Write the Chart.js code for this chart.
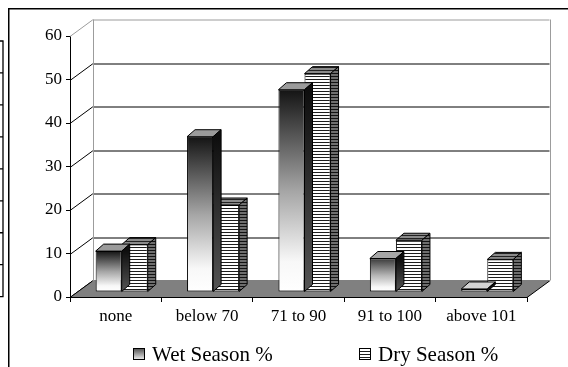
<!DOCTYPE html>
<html>
<head>
<meta charset="utf-8">
<script src="https://cdn.jsdelivr.net/npm/chart.js@4/dist/chart.umd.min.js"></script>
<style>
  html, body { margin: 0; padding: 0; background: #fff; }
  canvas { display: block; }
</style>
</head>
<body>
<canvas id="c" width="568" height="367"></canvas>
<script>
// Share of sites per class, wet vs dry season
const categories = ['none', 'below 70', '71 to 90', '91 to 100', 'above 101'];
const wetSeason = [9.4, 35.7, 46.5, 7.7, 0.7];
const drySeason = [10.9, 20, 50.2, 11.9, 7.5];
const seriesNames = ['Wet Season %', 'Dry Season %'];
const yTicks = [0, 10, 20, 30, 40, 50, 60];

const FONT = "'Liberation Serif', 'Times New Roman', serif";
const WALL = { dx: 22.5, dy: -16.5 };  // depth of floor and walls
const SHIFT = { dx: 6, dy: -5 };       // bar row stands part way back on the floor
const BAR = { dx: 8, dy: -7 };         // depth of each bar

const canvas = document.getElementById('c');
const ctx2d = canvas.getContext('2d');

function stripes(dark, light) {
  const c = document.createElement('canvas');
  c.width = 2; c.height = 3;
  const g = c.getContext('2d');
  g.fillStyle = light; g.fillRect(0, 0, 2, 3);
  g.fillStyle = dark; g.fillRect(0, 0, 2, 1);
  return ctx2d.createPattern(c, 'repeat');
}
const dryFrontFill = stripes('#1e1e1e', '#ffffff');
const drySideFill = stripes('#111111', '#6e6e6e');
const dryTopFill = stripes('#222222', '#8a8a8a');

function grey(v) {
  const h = Math.round(Math.max(0, Math.min(255, v))).toString(16).padStart(2, '0');
  return '#' + h + h + h;
}

// shaded front: dark at the top fading to white at the base;
// very short bars never reach full darkness
function wetGradient(ctx, top, base) {
  const f = Math.min(1, Math.abs(base - top) / 40);
  const g = ctx.createLinearGradient(0, top, 0, base);
  g.addColorStop(0, grey(255 - 235 * f));
  g.addColorStop(0.5, grey(255 - 90 * f));
  g.addColorStop(0.85, '#f8f8f8');
  g.addColorStop(1, '#ffffff');
  return g;
}

function wetFront(c) {
  const ys = c.chart.scales.y;
  if (c.type !== 'data' || !ys || !c.parsed) return '#888888';
  const top = ys.getPixelForValue(c.parsed.y);
  const base = ys.getPixelForValue(0);
  if (!Number.isFinite(top) || !Number.isFinite(base) || top === base) return '#888888';
  return wetGradient(c.chart.ctx, top, base);
}

const depthPlugin = {
  id: 'depth',
  beforeDatasetsDraw(chart) {
    const { ctx, chartArea: a, scales: { y } } = chart;
    const yTop = y.getPixelForValue(yTicks[yTicks.length - 1]);
    const yBot = y.getPixelForValue(yTicks[0]);
    ctx.save();
    ctx.lineWidth = 1;
    // side-wall and back-wall gridlines
    yTicks.forEach((v, i) => {
      const py = Math.round(y.getPixelForValue(v)) + 0.5;
      ctx.strokeStyle = i === yTicks.length - 1 ? '#9c9c9c' : '#000';
      ctx.beginPath();
      ctx.moveTo(a.left, py);
      ctx.lineTo(a.left + WALL.dx, py + WALL.dy);
      ctx.lineTo(a.right + WALL.dx, py + WALL.dy);
      ctx.stroke();
    });
    // back wall edges
    ctx.strokeStyle = '#9c9c9c';
    ctx.beginPath();
    ctx.moveTo(Math.round(a.left + WALL.dx) + 0.5, yTop + WALL.dy);
    ctx.lineTo(Math.round(a.left + WALL.dx) + 0.5, yBot + WALL.dy);
    ctx.moveTo(Math.round(a.right + WALL.dx) + 0.5, yTop + WALL.dy);
    ctx.lineTo(Math.round(a.right + WALL.dx) + 0.5, yBot + WALL.dy);
    ctx.stroke();
    // floor
    const fy = Math.round(yBot) + 0.5;
    ctx.fillStyle = '#808080';
    ctx.beginPath();
    ctx.moveTo(a.left, fy);
    ctx.lineTo(a.right, fy);
    ctx.lineTo(a.right + WALL.dx, fy + WALL.dy);
    ctx.lineTo(a.left + WALL.dx, fy + WALL.dy);
    ctx.closePath();
    ctx.fill();
    ctx.strokeStyle = '#000';
    ctx.beginPath();
    ctx.moveTo(a.left + WALL.dx, fy + WALL.dy);
    ctx.lineTo(a.left, fy);
    ctx.lineTo(a.right, fy);
    ctx.lineTo(a.right + WALL.dx, fy + WALL.dy);
    ctx.stroke();
    ctx.restore();
  },
  beforeDatasetDraw(chart) {
    chart.ctx.save();
    chart.ctx.translate(SHIFT.dx, SHIFT.dy);
  },
  afterDatasetDraw(chart, args) {
    const ctx = chart.ctx;
    const isWet = args.index === 0;
    const meta = chart.getDatasetMeta(args.index);
    ctx.lineWidth = 1;
    ctx.strokeStyle = '#000';
    meta.data.forEach(bar => {
      const { x, y, base, width } = bar.getProps(['x', 'y', 'base', 'width'], true);
      const l = x - width / 2, r = x + width / 2;
      const f = Math.min(1, Math.abs(base - y) / 40);
      // top face
      ctx.beginPath();
      ctx.moveTo(l, y);
      ctx.lineTo(l + BAR.dx, y + BAR.dy);
      ctx.lineTo(r + BAR.dx, y + BAR.dy);
      ctx.lineTo(r, y);
      ctx.closePath();
      ctx.fillStyle = isWet ? grey(215 - 60 * f) : dryTopFill;
      ctx.fill();
      ctx.stroke();
      // side face
      ctx.beginPath();
      ctx.moveTo(r, y);
      ctx.lineTo(r + BAR.dx, y + BAR.dy);
      ctx.lineTo(r + BAR.dx, base + BAR.dy);
      ctx.lineTo(r, base);
      ctx.closePath();
      if (isWet && base > y) {
        const g = ctx.createLinearGradient(0, y, 0, base);
        g.addColorStop(0, '#0e0e0e');
        g.addColorStop(1, '#555555');
        ctx.fillStyle = g;
      } else {
        ctx.fillStyle = isWet ? '#333333' : drySideFill;
      }
      ctx.fill();
      ctx.stroke();
    });
    ctx.restore();
  },
  afterDraw(chart) {
    const { ctx, chartArea: a } = chart;
    ctx.save();
    // legend
    const startX = a.left + 63, step = 226, boxY = 348, box = 12;
    ctx.font = `21px ${FONT}`;
    ctx.textBaseline = 'alphabetic';
    ctx.textAlign = 'left';
    seriesNames.forEach((name, i) => {
      const bx = startX + i * step;
      if (i === 0) {
        const g = ctx.createLinearGradient(0, boxY, 0, boxY + box);
        g.addColorStop(0, '#4a4a4a');
        g.addColorStop(1, '#f4f4f4');
        ctx.fillStyle = g;
      } else {
        ctx.fillStyle = dryFrontFill;
      }
      ctx.fillRect(bx, boxY, box, box);
      ctx.strokeStyle = '#000';
      ctx.lineWidth = 1;
      ctx.strokeRect(bx + 0.5, boxY + 0.5, box - 1, box - 1);
      ctx.fillStyle = '#000';
      ctx.fillText(name, bx + box + 7, boxY + 13);
    });
    // chart frame
    ctx.strokeStyle = '#000';
    ctx.lineWidth = 1.5;
    ctx.beginPath();
    ctx.moveTo(8.75, chart.height);
    ctx.lineTo(8.75, 8.75);
    ctx.lineTo(chart.width, 8.75);
    ctx.stroke();
    // edge of the neighbouring table on the page
    ctx.lineWidth = 1.3;
    ctx.beginPath();
    ctx.moveTo(3, 41);
    ctx.lineTo(3, 297);
    for (let k = 0; k < 9; k++) {
      const ty = 41 + k * 31.96;
      ctx.moveTo(0, ty);
      ctx.lineTo(3.6, ty);
    }
    ctx.stroke();
    ctx.restore();
  }
};

new Chart(canvas, {
  type: 'bar',
  data: {
    labels: categories,
    datasets: [
      {
        label: seriesNames[0], data: wetSeason,
        backgroundColor: wetFront, borderColor: '#000', borderWidth: 1, borderSkipped: false,
        categoryPercentage: 0.57, barPercentage: 1, clip: false
      },
      {
        label: seriesNames[1], data: drySeason,
        backgroundColor: dryFrontFill, borderColor: '#000', borderWidth: 1, borderSkipped: false,
        categoryPercentage: 0.57, barPercentage: 1, clip: false
      }
    ]
  },
  options: {
    responsive: false,
    animation: false,
    devicePixelRatio: 1,
    layout: { padding: { left: 20, right: 41, top: 36, bottom: 0 } },
    plugins: { legend: { display: false }, tooltip: { enabled: false } },
    scales: {
      x: {
        ticks: { color: '#000', font: { family: FONT, size: 17 }, padding: 4, maxRotation: 0, autoSkip: false },
        grid: { offset: true, drawOnChartArea: false, tickLength: 5, color: '#000' },
        border: { display: true, color: '#000', width: 1 },
        afterFit(s) { s.height = 70; s.paddingLeft = 0; s.paddingRight = 0; }
      },
      y: {
        min: yTicks[0], max: yTicks[yTicks.length - 1],
        ticks: { color: '#000', font: { family: FONT, size: 17 }, padding: 4 },
        grid: { drawOnChartArea: false, tickLength: 4, color: '#000' },
        border: { display: true, color: '#000', width: 1 },
        afterBuildTicks(s) { s.ticks = yTicks.map(v => ({ value: v })); },
        afterFit(s) { s.width = 50; s.paddingTop = 0; s.paddingBottom = 0; }
      }
    }
  },
  plugins: [depthPlugin]
});
</script>
</body>
</html>
